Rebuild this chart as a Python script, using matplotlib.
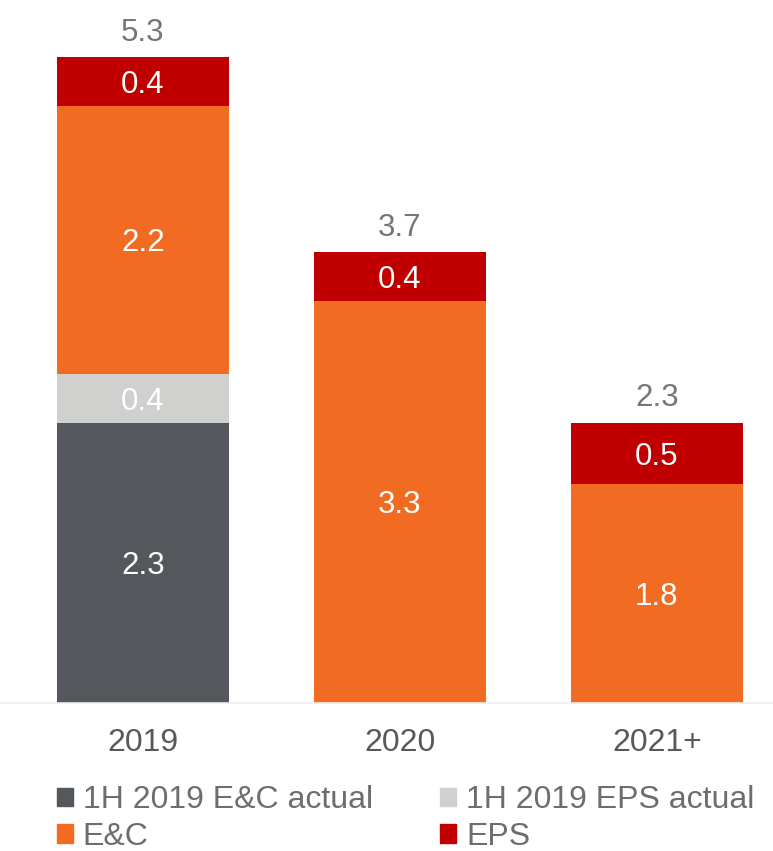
import matplotlib.pyplot as plt
from matplotlib.patches import Patch
import numpy as np

plt.rcParams['font.family'] = ['Liberation Sans', 'DejaVu Sans']

years = ["2019", "2020", "2021+"]
ec_actual = [2.3, 0.0, 0.0]
eps_actual = [0.4, 0.0, 0.0]
ec = [2.2, 3.3, 1.8]
eps = [0.4, 0.4, 0.5]
totals = [5.3, 3.7, 2.3]

series = [
    ("1H 2019 E&C actual", ec_actual, "#54575c"),
    ("1H 2019 EPS actual", eps_actual, "#d0d0ce"),
    ("E&C", ec, "#f26b23"),
    ("EPS", eps, "#c00000"),
]

fig = plt.figure(figsize=(7.73, 8.51), dpi=100)
ax = fig.add_axes([0.0, 0.1739, 1.0, 0.8261])

x = np.arange(len(years))
bottom = np.zeros(len(years))
for name, vals, color in series:
    vals = np.array(vals)
    ax.bar(x, vals, width=0.67, bottom=bottom, color=color, label=name)
    for i, v in enumerate(vals):
        if v > 0:
            ax.text(x[i], bottom[i] + v / 2, f"{v:.1f}", ha="center", va="center_baseline",
                    color="white", fontsize=22.5)
    bottom += vals

# totals above each stack
for i, t in enumerate(totals):
    ax.annotate(f"{t:.1f}", (x[i], bottom[i]), xytext=(0, 20), textcoords="offset points",
                ha="center", va="center_baseline", color="#767676", fontsize=22.5)

ax.set_xlim(-0.556, 2.452)
ax.set_ylim(0, 5.767)
ax.set_xticks(x)
ax.set_xticklabels(years, fontsize=23, color="#595959")
ax.tick_params(axis="x", length=0, pad=18)
ax.set_yticks([])
for side in ["top", "right", "left"]:
    ax.spines[side].set_visible(False)
ax.spines["bottom"].set_color("#eeeeee")
ax.spines["bottom"].set_linewidth(1.2)

handles = [Patch(color=c) for _, _, c in series]
labels = [n for n, _, _ in series]
order = [0, 2, 1, 3]
fig.legend([handles[i] for i in order], [labels[i] for i in order],
           loc="upper left", bbox_to_anchor=(0.0737, 0.077), ncol=2, frameon=False,
           fontsize=23, labelcolor="#6d6d6d", handlelength=0.5, handleheight=0.5,
           handletextpad=0.31, columnspacing=2.1, labelspacing=0.2, borderpad=0,
           borderaxespad=0)

fig.savefig("out.png", dpi=100)
